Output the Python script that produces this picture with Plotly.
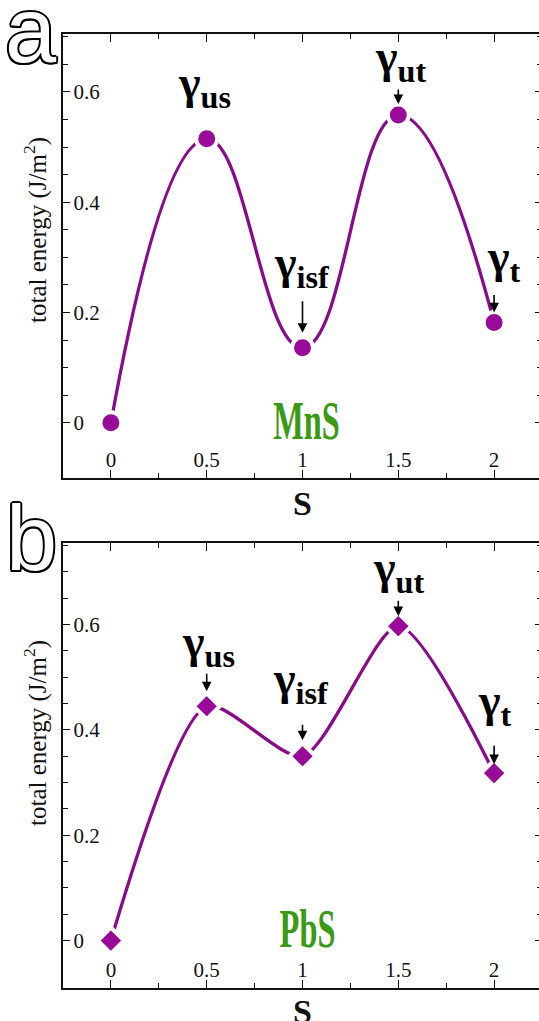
import plotly.graph_objects as go

# ---------------- data ----------------
S_VALUES = [0, 0.5, 1, 1.5, 2]
MNS_ENERGY = [0, 0.515, 0.136, 0.558, 0.182]
PBS_ENERGY = [0, 0.445, 0.350, 0.597, 0.318]
X_TICKS = [0, 0.5, 1, 1.5, 2]
X_TICK_LABELS = ["0", "0.5", "1", "1.5", "2"]
Y_TICKS = [0, 0.2, 0.4, 0.6]
Y_TICK_LABELS = ["0", "0.2", "0.4", "0.6"]
POINT_NAMES = ["", "us", "isf", "ut", "t"]
MNS_ARROWS = [False, False, True, True, True]
PBS_ARROWS = [False, True, True, True, True]
X_TITLE = "S"
Y_TITLE = "total energy (J/m<sup>2</sup>)"
MATERIALS = ["MnS", "PbS"]
PANEL_LETTERS = ["a", "b"]

# ---------------- layout helpers ----------------
# figure is 3 px wider than the window so the right frame line falls just outside,
# as in the (cropped) reference
W, H = 542, 1021
def px(x):
    return x / W
def py(y):
    return 1 - y / H

LINE_COLOR = "#8a0a8c"
MARK_COLOR = "#990a99"
GREEN = "#3a9a16"
SERIF = "Liberation Serif"

fig = go.Figure()

panels = [
    dict(energy=MNS_ENERGY, arrows=MNS_ARROWS, symbol="circle", size=21, smooth=1.3,
         xa="x", ya="y", top=34, bottom=478, yrange=[-0.1, 0.705],
         lab=[None, (-2, 53), (-1, 82), (2, 55), (10, 62)],
         arr=[None, None, (48, 15), (27, 11), (29, 10)],
         mat_xy=(306, 421), ytitle_y=230, letter_y=30, xtitle_y=503),
    dict(energy=PBS_ENERGY, arrows=PBS_ARROWS, symbol="diamond", size=20, smooth=0.7,
         xa="x2", ya="y2", top=543, bottom=988, yrange=[-0.09, 0.755],
         lab=[None, (2, 61), (-2, 74), (0, 55), (1, 69)],
         arr=[None, (34, 15), (33, 16), (27, 10), (29, 9)],
         mat_xy=(307, 929), ytitle_y=733, letter_y=538, xtitle_y=1011),
]

annotations = []
for i, p in enumerate(panels):
    fig.add_trace(go.Scatter(
        x=S_VALUES, y=p["energy"], mode="lines",
        line=dict(color=LINE_COLOR, width=3.3, shape="spline", smoothing=p["smooth"]),
        xaxis=p["xa"], yaxis=p["ya"], showlegend=False, hoverinfo="skip"))
    fig.add_trace(go.Scatter(
        x=S_VALUES, y=p["energy"], mode="markers",
        marker=dict(symbol=p["symbol"], size=p["size"], color=MARK_COLOR,
                    line=dict(color="white", width=4)),
        xaxis=p["xa"], yaxis=p["ya"], showlegend=False))

    suffix = "" if i == 0 else "2"
    axis_common = dict(showgrid=False, zeroline=False, showline=True, automargin=False,
                       linecolor="#111", linewidth=1.5, mirror="ticks",
                       ticks="inside", tickcolor="#111", tickwidth=1.3,
                       ticklabelposition="inside",
                       tickfont=dict(family=SERIF, size=21, color="#111"))
    fig.update_layout(**{
        "xaxis" + suffix: dict(axis_common, domain=[px(63), 1], range=[-0.25, 2.25],
                               tickvals=X_TICKS, ticktext=X_TICK_LABELS, ticklen=8,
                               minor=dict(ticks="inside", dtick=0.25, tick0=0, ticklen=5,
                                          tickcolor="#111", tickwidth=1.2),
                               anchor="y" + suffix),
        "yaxis" + suffix: dict(axis_common, domain=[py(p["bottom"]), py(p["top"])],
                               range=p["yrange"], tickvals=Y_TICKS, ticktext=Y_TICK_LABELS,
                               ticklen=7, ticklabelstandoff=5,
                               minor=dict(ticks="inside", dtick=0.05, tick0=0, ticklen=5,
                                          tickcolor="#111", tickwidth=1.2),
                               anchor="x" + suffix),
    })

    for k, name in enumerate(POINT_NAMES):
        if p["lab"][k] is not None:
            dx, dy = p["lab"][k]
            annotations.append(dict(
                x=S_VALUES[k], y=p["energy"][k], xref=p["xa"], yref=p["ya"],
                text="<b>γ<sub>" + name + "</sub></b>", showarrow=False,
                xshift=dx, yshift=dy, xanchor="center", yanchor="middle",
                font=dict(family=SERIF, size=46, color="#000")))
        if p["arrows"][k]:
            length, stand = p["arr"][k]
            annotations.append(dict(
                x=S_VALUES[k], y=p["energy"][k], xref=p["xa"], yref=p["ya"],
                text="", showarrow=True, ax=0, ay=-length, axref="pixel", ayref="pixel",
                arrowhead=2, arrowsize=1.2, arrowwidth=1.6, arrowcolor="#000",
                standoff=stand, font=dict(size=1)))

    mx, my = p["mat_xy"]
    annotations.append(dict(
        x=px(mx), y=py(my), xref="paper", yref="paper", text="<b>" + MATERIALS[i] + "</b>",
        showarrow=False, xanchor="center", yanchor="middle",
        font=dict(family=SERIF, size=54, color=GREEN)))
    # x axis title
    annotations.append(dict(
        x=0.5, y=py(p["xtitle_y"]), xref=p["xa"] + " domain", yref="paper",
        text="<b>" + X_TITLE + "</b>", showarrow=False, xanchor="center", yanchor="middle",
        font=dict(family=SERIF, size=34, color="#111")))
    # y axis title
    annotations.append(dict(
        x=px(35), y=py(p["ytitle_y"]), xref="paper", yref="paper", text=Y_TITLE,
        textangle=-90, showarrow=False, xanchor="center", yanchor="middle",
        font=dict(family=SERIF, size=25, color="#111")))
    annotations.append(dict(
        x=px(31), y=py(p["letter_y"]), xref="paper", yref="paper", text=PANEL_LETTERS[i],
        showarrow=False, xanchor="center", yanchor="middle",
        font=dict(family="Liberation Sans", size=92, color="white",
                  shadow="2px 0 0 #000, -2px 0 0 #000, 0 2px 0 #000, 0 -2px 0 #000, "
                         "1.5px 1.5px 0 #000, -1.5px -1.5px 0 #000, 1.5px -1.5px 0 #000, "
                         "-1.5px 1.5px 0 #000")))

fig.update_layout(width=W, height=H, margin=dict(l=0, r=0, t=0, b=0, autoexpand=False),
                  paper_bgcolor="white", plot_bgcolor="white",
                  annotations=annotations, showlegend=False)

post = """
document.body.style.margin = '0';
document.body.style.overflow = 'hidden';
document.querySelectorAll('text.annotation-text').forEach(function(t){
  var s = t.textContent;
  if (s === 'MnS' || s === 'PbS') {
    t.style.transformBox = 'fill-box';
    t.style.transformOrigin = 'center';
    t.style.transform = 'scaleX(0.6)';
  }
});
"""
fig.write_html("out.html", post_script=post, config={"displayModeBar": False})
